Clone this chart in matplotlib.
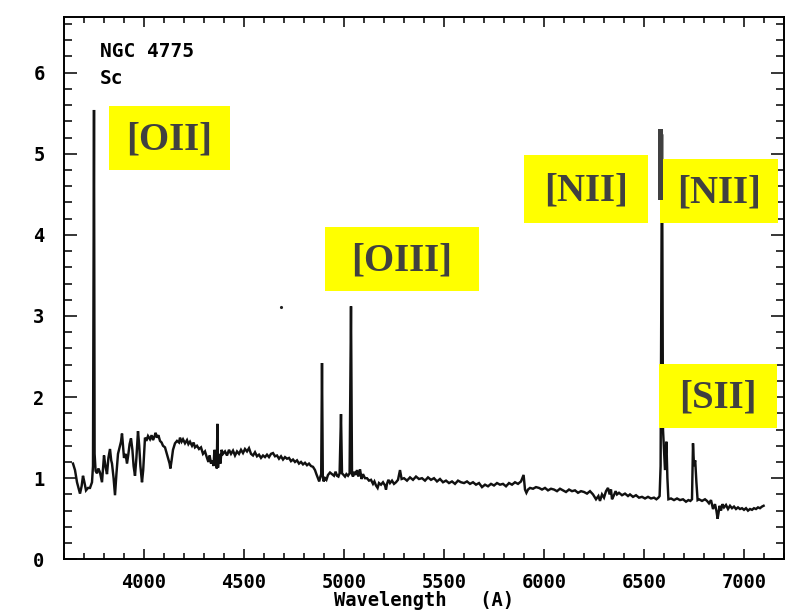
import numpy as np
import matplotlib
matplotlib.use("Agg")
import matplotlib.pyplot as plt
from matplotlib.patches import Rectangle
from matplotlib.ticker import MultipleLocator

# ---- spectrum of NGC 4775 --------------------------------------------------
wave = [3645, 3655, 3665, 3680, 3688, 3695, 3702, 3710, 3720, 3730, 3740, 3745,
        3750, 3753, 3758, 3765, 3772, 3780, 3790, 3800, 3807, 3815, 3822, 3830,
        3836, 3840, 3848, 3855, 3862, 3870, 3878, 3885, 3890, 3895, 3900, 3908,
        3915, 3922, 3928, 3935, 3942, 3948, 3955, 3962, 3970, 3976, 3982, 3990,
        3996, 4005, 4012, 4020, 4030, 4038, 4045, 4052, 4058, 4065, 4072, 4080,
        4088, 4095, 4105, 4112, 4120, 4128, 4132, 4138, 4145, 4155, 4165, 4175,
        4180, 4188, 4195, 4205, 4215, 4222, 4230, 4240, 4248, 4255, 4265, 4275,
        4285, 4295, 4305, 4315, 4322, 4328, 4335, 4342, 4348, 4352, 4358, 4364,
        4367, 4370, 4375, 4382, 4388, 4395, 4405, 4415, 4425, 4435, 4445, 4455,
        4465, 4475, 4485, 4495, 4505, 4515, 4525, 4535, 4545, 4555, 4565, 4575,
        4585, 4595, 4605, 4615, 4625, 4635, 4645, 4655, 4665, 4675, 4685, 4695,
        4705, 4715, 4725, 4735, 4745, 4755, 4765, 4775, 4785, 4795, 4805, 4815,
        4825, 4835, 4845, 4855, 4862, 4870, 4876, 4882, 4886, 4890, 4894, 4898,
        4905, 4912, 4920, 4930, 4940, 4950, 4958, 4965, 4972, 4978, 4985, 4990,
        4998, 5005, 5012, 5020, 5028, 5035, 5040, 5045, 5052, 5058, 5065, 5072,
        5080, 5088, 5095, 5105, 5115, 5125, 5135, 5145, 5152, 5160, 5168, 5175,
        5185, 5195, 5205, 5210, 5215, 5222, 5230, 5240, 5250, 5260, 5270, 5280,
        5288, 5300, 5315, 5330, 5345, 5360, 5375, 5390, 5405, 5420, 5435, 5450,
        5465, 5480, 5495, 5510, 5525, 5540, 5555, 5570, 5585, 5600, 5615, 5630,
        5645, 5660, 5675, 5690, 5705, 5720, 5735, 5750, 5765, 5780, 5795, 5810,
        5825, 5840, 5855, 5870, 5885, 5898, 5905, 5912, 5920, 5930, 5945, 5960,
        5975, 5990, 6005, 6020, 6035, 6050, 6065, 6080, 6095, 6110, 6125, 6140,
        6155, 6170, 6185, 6200, 6215, 6230, 6245, 6260, 6272, 6280, 6290, 6300,
        6310, 6320, 6328, 6335, 6340, 6348, 6358, 6365, 6375, 6390, 6405, 6420,
        6430, 6445, 6460, 6475, 6490, 6505, 6520, 6535, 6550, 6562, 6572, 6578,
        6583, 6590, 6595, 6600, 6605, 6612, 6617, 6622, 6635, 6650, 6665, 6680,
        6695, 6710, 6722, 6732, 6740, 6745, 6750, 6756, 6762, 6768, 6775, 6790,
        6805, 6815, 6825, 6835, 6845, 6855, 6862, 6868, 6872, 6878, 6885, 6892,
        6900, 6910, 6920, 6930, 6940, 6950, 6960, 6970, 6980, 6990, 7000, 7010,
        7020, 7030, 7040, 7050, 7060, 7070, 7080, 7090, 7098]
flux = [1.18, 1.10, 0.95, 0.81, 0.90, 1.03, 0.95, 0.85, 0.88, 0.88, 0.95, 1.15,
        5.54, 1.30, 1.09, 1.06, 1.12, 1.07, 0.95, 1.28, 1.15, 1.05, 1.25, 1.36,
        1.22, 1.18, 1.00, 0.79, 1.05, 1.30, 1.38, 1.45, 1.55, 1.40, 1.25, 1.30,
        1.18, 1.30, 1.42, 1.49, 1.35, 1.15, 1.03, 1.25, 1.58, 1.40, 1.15, 0.95,
        1.10, 1.50, 1.46, 1.52, 1.48, 1.53, 1.47, 1.51, 1.56, 1.50, 1.53, 1.46,
        1.44, 1.40, 1.38, 1.32, 1.25, 1.18, 1.12, 1.22, 1.35, 1.43, 1.46, 1.44,
        1.50, 1.45, 1.48, 1.43, 1.47, 1.42, 1.45, 1.40, 1.44, 1.38, 1.40, 1.36,
        1.38, 1.30, 1.33, 1.25, 1.20, 1.28, 1.18, 1.22, 1.15, 1.35, 1.28, 1.12,
        1.67, 1.13, 1.30, 1.18, 1.35, 1.30, 1.33, 1.28, 1.35, 1.30, 1.34, 1.28,
        1.33, 1.30, 1.35, 1.31, 1.36, 1.33, 1.37, 1.30, 1.28, 1.32, 1.27, 1.29,
        1.25, 1.28, 1.26, 1.29, 1.26, 1.30, 1.31, 1.27, 1.28, 1.24, 1.27, 1.23,
        1.26, 1.24, 1.25, 1.21, 1.23, 1.20, 1.22, 1.18, 1.20, 1.17, 1.19, 1.16,
        1.18, 1.15, 1.14, 1.10, 1.05, 1.00, 0.96, 1.02, 1.05, 2.42, 1.02, 0.96,
        1.00, 0.98, 1.04, 1.07, 1.05, 1.03, 1.08, 1.03, 1.02, 1.06, 1.79, 1.06,
        1.04, 1.02, 1.05, 1.03, 1.06, 3.12, 1.05, 1.02, 1.08, 1.04, 1.10, 1.02,
        1.11, 0.99, 1.05, 1.00, 1.00, 0.97, 0.98, 0.93, 0.96, 0.91, 0.88, 0.94,
        0.92, 0.95, 0.91, 0.86, 0.93, 0.98, 0.94, 0.97, 0.93, 0.95, 0.98, 1.10,
        0.99, 1.00, 0.97, 1.01, 0.98, 1.02, 0.99, 1.00, 0.97, 1.01, 0.98, 1.00,
        0.96, 0.99, 0.95, 0.97, 0.94, 0.96, 0.93, 0.97, 0.95, 0.94, 0.96, 0.93,
        0.95, 0.92, 0.94, 0.89, 0.92, 0.90, 0.93, 0.91, 0.94, 0.92, 0.93, 0.90,
        0.94, 0.92, 0.95, 0.93, 0.96, 1.04, 0.86, 0.82, 0.86, 0.88, 0.87, 0.89,
        0.88, 0.86, 0.88, 0.85, 0.87, 0.86, 0.84, 0.87, 0.85, 0.83, 0.86, 0.84,
        0.85, 0.82, 0.84, 0.83, 0.81, 0.84, 0.80, 0.74, 0.78, 0.72, 0.80, 0.76,
        0.84, 0.88, 0.80, 0.86, 0.74, 0.78, 0.84, 0.80, 0.82, 0.79, 0.81, 0.78,
        0.80, 0.77, 0.79, 0.76, 0.77, 0.75, 0.77, 0.75, 0.76, 0.74, 0.76, 0.78,
        1.15, 5.24, 1.60, 1.35, 1.10, 1.45, 1.00, 0.74, 0.75, 0.73, 0.75, 0.73,
        0.74, 0.71, 0.73, 0.72, 0.74, 1.43, 1.15, 1.22, 0.95, 0.73, 0.74, 0.72,
        0.74, 0.72, 0.69, 0.73, 0.62, 0.68, 0.60, 0.50, 0.56, 0.66, 0.60, 0.68,
        0.64, 0.67, 0.62, 0.66, 0.63, 0.65, 0.62, 0.64, 0.62, 0.63, 0.61, 0.63,
        0.60, 0.62, 0.61, 0.63, 0.62, 0.64, 0.63, 0.65, 0.66]
speck_x = [4685]
speck_y = [3.11]

x_ticks = [4000, 4500, 5000, 5500, 6000, 6500, 7000]
y_ticks = [0, 1, 2, 3, 4, 5, 6]

# yellow highlight labels: (left, top, right, bottom) in pixels, text
boxes = [((109, 106, 230, 170), "[OII]"),
         ((325, 227, 479, 291), "[OIII]"),
         ((524, 155, 648, 223), "[NII]"),
         ((660, 159, 778, 223), "[NII]"),
         ((659, 364, 777, 428), "[SII]")]
bar = (658, 129, 663, 200)

W, H = 799, 611
MONO = "DejaVu Sans Mono"


def fpx(x, y):
    return x / W, 1 - y / H


fig = plt.figure(figsize=(W / 100, H / 100), dpi=100)
ax = fig.add_axes([64 / W, 1 - 559.3 / H, 720 / W, 542.6 / H])

ax.plot(wave, flux, color="#111111", lw=1.75, solid_joinstyle="miter")
ax.plot(speck_x, speck_y, ".", color="#222222", ms=2.5)

ax.set_xlim(3600, 7200)
ax.set_ylim(0, 6.69)
ax.set_xticks(x_ticks)
ax.set_yticks(y_ticks)
ax.xaxis.set_minor_locator(MultipleLocator(100))
ax.yaxis.set_minor_locator(MultipleLocator(0.2))
for s in ax.spines.values():
    s.set_linewidth(1.4)
ax.tick_params(which="both", direction="in", top=True, right=True, width=1.1)
ax.tick_params(axis="x", which="major", length=7.5, pad=10)
ax.tick_params(axis="x", which="minor", length=4)
ax.tick_params(axis="y", which="major", length=9.5, pad=14)
ax.tick_params(axis="y", which="minor", length=5.5)
for lab in ax.get_xticklabels() + ax.get_yticklabels():
    lab.set_fontfamily(MONO)
    lab.set_fontweight("bold")
    lab.set_fontsize(13.5)

ax.set_xlabel("Wavelength   (A)", family=MONO, weight="bold", fontsize=13.5)
ax.xaxis.set_label_coords(0.5, -0.058)

ax.text(0.05, 0.9257, "NGC 4775", transform=ax.transAxes, family=MONO,
        weight="bold", fontsize=14, va="baseline")
ax.text(0.05, 0.876, "Sc", transform=ax.transAxes, family=MONO,
        weight="bold", fontsize=14, va="baseline")

for (x0, y0, x1, y1), txt in boxes:
    fx0, fy1 = fpx(x0, y1)
    fx1, fy0 = fpx(x1, y0)
    fig.add_artist(Rectangle((fx0, fy1), fx1 - fx0, fy0 - fy1,
                             transform=fig.transFigure, color="#ffff00",
                             lw=0, zorder=5))
    cx, cy = fpx((x0 + x1) / 2, (y0 + y1) / 2 + 2)
    fig.text(cx, cy, txt, ha="center", va="center", family="Liberation Serif",
             weight="bold", fontsize=28, color="#404040", zorder=6)

bx0, by1 = fpx(bar[0], bar[3])
bx1, by0 = fpx(bar[2], bar[1])
fig.add_artist(Rectangle((bx0, by1), bx1 - bx0, by0 - by1,
                         transform=fig.transFigure, color="#404040", lw=0,
                         zorder=7))

fig.savefig("out.png", dpi=100)
